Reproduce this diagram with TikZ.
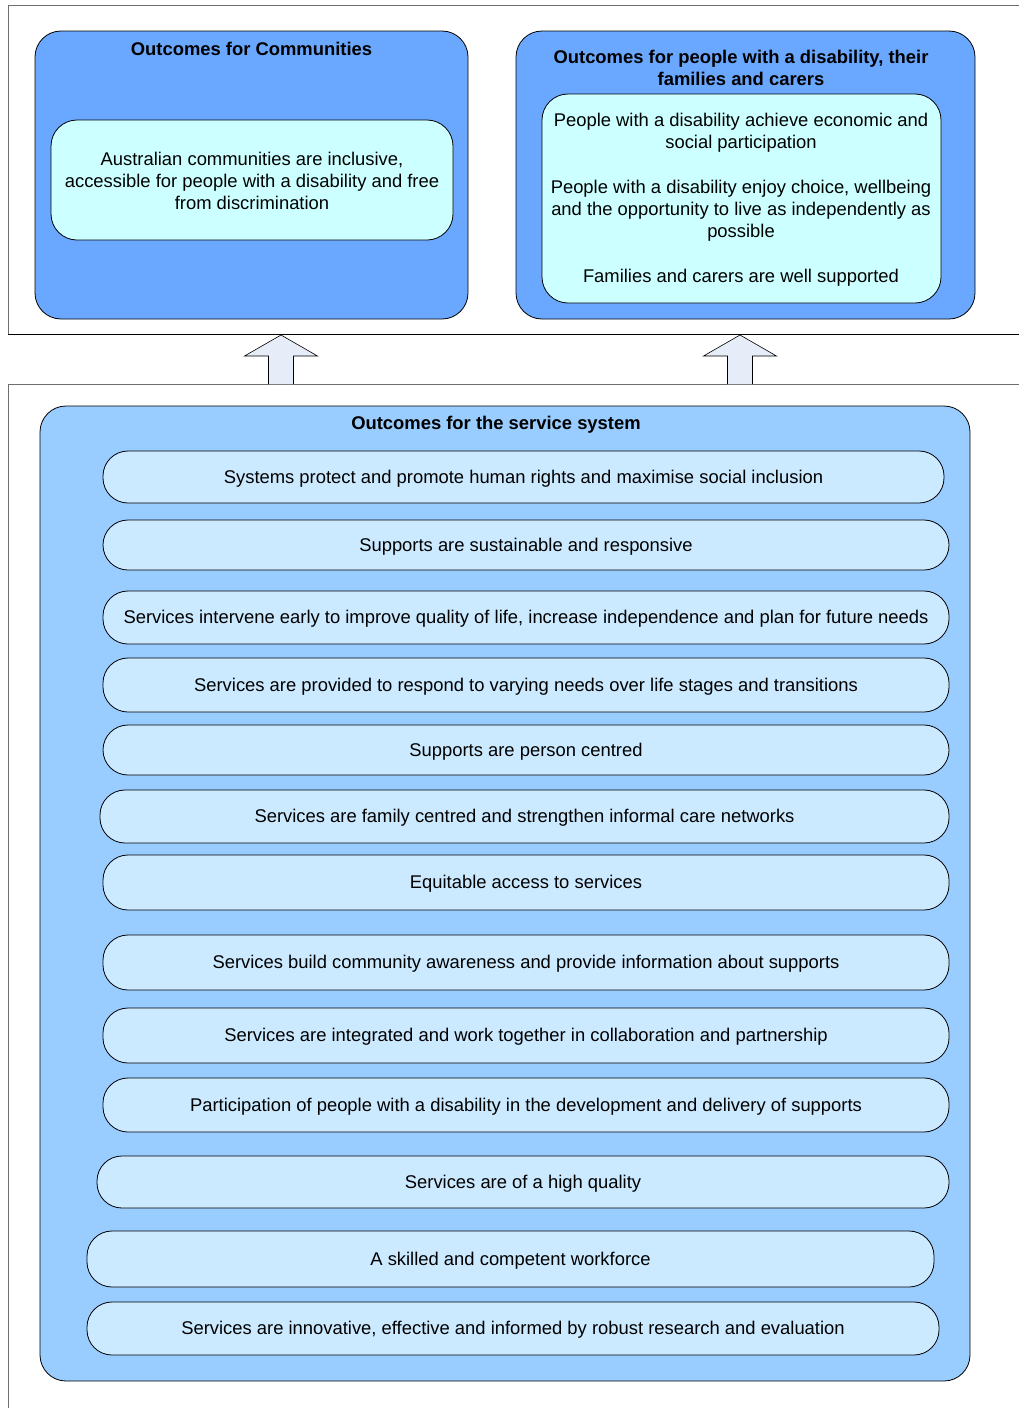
\documentclass[tikz,border=0pt]{standalone}
\usepackage{fontspec}
\setmainfont{Liberation Sans}
\usetikzlibrary{positioning}
\definecolor{darkbox}{RGB}{106,168,255}
\definecolor{cyanbox}{RGB}{204,255,255}
\definecolor{sysbox}{RGB}{153,204,255}
\definecolor{pillfill}{RGB}{204,234,255}
\definecolor{arrowfill}{RGB}{230,236,248}
\definecolor{framegray}{RGB}{110,110,110}
\tikzset{
  outerbox/.style={draw=black, line width=0.8pt, fill=darkbox, rounded corners=26pt},
  innerbox/.style={draw=black, line width=0.8pt, fill=cyanbox, rounded corners=26pt},
  sysouter/.style={draw=black, line width=0.8pt, fill=sysbox, rounded corners=26pt},
  pill/.style={draw=black, line width=0.8pt, fill=pillfill, rounded corners=25pt},
  frame/.style={draw=framegray, line width=1pt},
  upArrow/.style={draw=black, line width=0.6pt, fill=arrowfill},
  body/.style={font=\fontsize{18.4}{22}\selectfont, align=center, inner sep=0pt},
  head/.style={font=\fontsize{18.4}{22}\selectfont\bfseries, align=center, inner sep=0pt},
}
\newcommand{\pillbox}[6]{% name, x1, y1, x2, y2, text
  \path[pill] (#2,#3) rectangle (#4,#5);
  \node[body] (#1) at ({(#2+#4)/2},{(#3+#5)/2+1.5}) {#6};
}
\begin{document}
\begin{tikzpicture}[x=1pt,y=-1pt]
\useasboundingbox (0,0) rectangle (1019,1408);
% frames
\draw[frame] (1030,5) -- (8,5) -- (8,334);
\draw[draw=black, line width=1pt] (8,334) -- (1030,334);
\draw[frame] (1030,384) -- (8,384) -- (8,1420);

% top-left box
\path[outerbox] (35,31) rectangle (468,319);
\node[head] (comH) at (251.5,49) {Outcomes for Communities};
\path[innerbox] (51,120) rectangle (453,240);
\node[body] (comT) at (252,181) {Australian communities are inclusive,\\accessible for people with a disability and free\\from discrimination};

% top-right box
\path[outerbox] (516,31) rectangle (975,319);
\node[head] (pplH) at (741,68) {Outcomes for people with a disability, their\\families and carers};
\path[innerbox] (542,94) rectangle (941,303);
\node[body] (pplT) at (741,200) {People with a disability achieve economic and\\social participation\\[23pt]People with a disability enjoy choice, wellbeing\\and the opportunity to live as independently as\\possible\\[23pt]Families and carers are well supported};

% arrows
\coordinate (a1) at (281,384);
\coordinate (a2) at (740,384);
\foreach \c in {a1,a2}{
  \path[upArrow] ([xshift=-12.5pt]\c) -- ++(0,-28) -- ++(-24,0) -- ++(36.5,-21) -- ++(36.5,21) -- ++(-24,0) -- ++(0,28);
}

% service system box
\path[sysouter] (40,406) rectangle (970,1381);
\node[head] (sysH) at (496,425) {Outcomes for the service system};

\pillbox{p1}{103}{451}{944}{503}{Systems protect and promote human rights and maximise social inclusion}
\pillbox{p2}{103}{520}{949}{570}{Supports are sustainable and responsive}
\pillbox{p3}{103}{591}{949}{644}{Services intervene early to improve quality of life, increase independence and plan for future needs}
\pillbox{p4}{103}{658}{949}{712}{Services are provided to respond to varying needs over life stages and transitions}
\pillbox{p5}{103}{725}{949}{775}{Supports are person centred}
\pillbox{p6}{100}{790}{949}{843}{Services are family centred and strengthen informal care networks}
\pillbox{p7}{103}{855}{949}{910}{Equitable access to services}
\pillbox{p8}{103}{935}{949}{990}{Services build community awareness and provide information about supports}
\pillbox{p9}{103}{1008}{949}{1063}{Services are integrated and work together in collaboration and partnership}
\pillbox{p10}{103}{1078}{949}{1132}{Participation of people with a disability in the development and delivery of supports}
\pillbox{p11}{97}{1156}{949}{1208}{Services are of a high quality}
\pillbox{p12}{87}{1231}{934}{1287}{A skilled and competent workforce}
\pillbox{p13}{87}{1302}{939}{1355}{Services are innovative, effective and informed by robust research and evaluation}
\end{tikzpicture}
\end{document}
